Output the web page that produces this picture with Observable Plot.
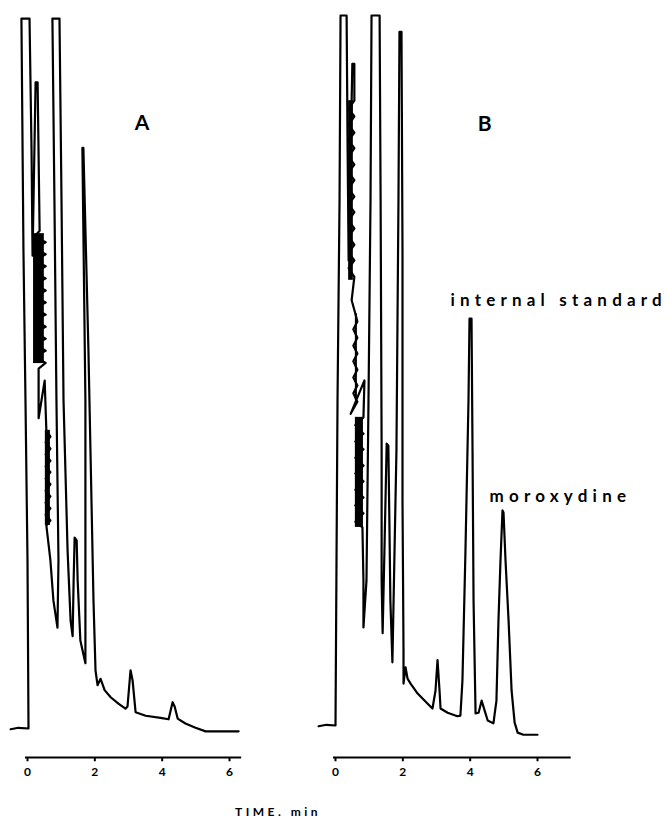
<!DOCTYPE html>
<html><head><meta charset="utf-8">
<script src="https://cdn.jsdelivr.net/npm/d3@7"></script>
<script src="https://cdn.jsdelivr.net/npm/@observablehq/plot@0.6"></script>
<style>
html,body{margin:0;padding:0;background:#fff;}
#chart{position:relative;width:667px;height:825px;overflow:hidden;background:#fff;}
#chart .panel{position:absolute;top:0;}
#xlabel{position:absolute;left:235px;top:804px;font:bold 12px Lato, sans-serif;letter-spacing:3.5px;color:#000;white-space:nowrap;}
</style></head>
<body><div id="chart"><div id="xlabel">TIME. min</div></div>
<script>
// Chromatogram A: [time (min), detector signal (% of full scale)]
const traceA = [
  [-0.50,-0.1],[-0.27,0.1],[0.03,0],[0.00,23.7],[-0.06,46.2],[-0.12,67.3],[-0.18,100],[0.06,100],
  [0.12,81.4],[0.15,66.6],[0.24,91.0],[0.30,91.0],[0.36,70.1],
  [0.21,69.3],[0.54,68.5],[0.21,67.6],[0.54,66.8],[0.21,65.9],[0.54,65.1],[0.21,64.2],[0.54,63.4],
  [0.21,62.5],[0.54,61.7],[0.21,60.8],[0.54,60.0],[0.21,59.2],[0.54,58.3],[0.21,57.5],[0.54,56.6],
  [0.21,55.8],[0.54,54.9],[0.21,54.1],[0.54,53.2],[0.21,52.4],[0.54,51.5],
  [0.33,50.7],[0.33,43.7],[0.51,49.0],[0.56,42.0],
  [0.68,41.1],[0.54,40.3],[0.68,39.4],[0.54,38.6],[0.68,37.7],[0.54,36.9],[0.68,36.1],[0.54,35.2],
  [0.68,34.4],[0.54,33.5],[0.68,32.7],[0.54,31.8],[0.68,31.0],[0.54,30.1],[0.68,29.3],[0.56,28.6],
  [0.68,23.7],[0.77,18.0],[0.89,14.2],
  [0.92,23.7],[0.86,46.2],[0.80,74.4],[0.74,100],[0.95,100],[1.01,74.4],[1.07,46.2],[1.19,25.1],[1.28,15.2],[1.34,13.0],
  [1.37,20.8],[1.40,26.9],[1.46,26.5],[1.49,20.8],[1.57,12.4],[1.72,9.2],
  [1.72,46.2],[1.63,81.8],[1.66,81.8],[1.81,53.2],[1.87,39.2],[1.96,18.0],[2.02,8.2],[2.08,6.1],
  [2.17,7.0],[2.23,6.2],[2.29,5.4],[2.47,4.4],[2.70,3.5],[2.91,2.8],[2.97,3.1],[3.06,8.2],[3.12,6.8],
  [3.21,2.3],[3.51,1.8],[3.95,1.5],[4.19,1.3],[4.25,2.5],[4.31,3.7],[4.37,3.1],[4.46,1.4],[4.69,0.7],
  [4.99,0.1],[5.29,-0.4],[5.73,-0.4],[6.27,-0.4]
];
// Dense pen-chatter bands of chromatogram A: [t1, t2, s1, s2]
const chatterA = [
  [0.18, 0.50, 51.4, 69.7],
  [0.53, 0.68, 28.6, 42.0]
];
// Chromatogram B
const traceB = [
  [-0.50,-0.1],[-0.27,0.1],[0.00,0],[0.03,23.2],[0.06,45.8],[0.12,73.9],[0.15,100],[0.33,100],
  [0.36,81.0],[0.39,65.5],[0.50,93.2],[0.56,93.2],[0.56,88.0],
  [0.39,86.9],[0.56,85.8],[0.39,84.6],[0.56,83.5],[0.39,82.4],[0.56,81.3],[0.39,80.1],[0.56,79.0],
  [0.39,77.9],[0.56,76.8],[0.39,75.6],[0.56,74.5],[0.39,73.4],[0.56,72.3],[0.39,71.1],[0.56,70.0],
  [0.39,68.9],[0.56,67.7],[0.39,66.6],[0.56,65.5],[0.39,64.4],[0.56,63.2],
  [0.48,59.9],[0.59,58.0],
  [0.65,56.9],[0.53,55.8],[0.65,54.6],[0.53,53.5],[0.65,52.4],[0.53,51.3],[0.65,50.1],[0.53,49.0],
  [0.65,47.9],[0.53,46.8],[0.65,45.6],
  [0.45,43.9],[0.86,48.6],[0.83,43.4],
  [0.59,42.3],[0.83,41.1],[0.59,40.0],[0.83,38.9],[0.59,37.7],[0.83,36.6],[0.59,35.5],[0.83,34.4],
  [0.59,33.2],[0.83,32.1],[0.59,31.0],[0.83,29.9],[0.59,28.7],[0.80,27.9],
  [0.83,20.4],[0.83,13.8],
  [0.92,20.4],[0.98,45.8],[1.04,73.9],[1.07,100],[1.31,100],[1.34,73.9],[1.37,38.7],[1.37,20.4],[1.40,13.0],
  [1.46,26.1],[1.52,39.7],[1.57,39.4],[1.60,28.9],[1.63,17.6],[1.69,8.9],
  [1.81,38.7],[1.87,73.9],[1.90,97.7],[1.96,97.7],[1.99,66.9],[1.99,31.7],[2.02,10.6],[2.02,5.9],
  [2.08,8.2],[2.14,6.6],[2.23,5.9],[2.44,4.5],[2.73,3.1],[2.88,2.4],[2.97,4.9],[3.03,9.2],[3.09,4.9],
  [3.12,2.4],[3.33,1.8],[3.62,1.3],[3.71,1.4],[3.77,6.3],[3.86,24.6],[3.95,45.8],[3.98,57.3],[4.04,57.3],
  [4.07,38.7],[4.10,17.6],[4.16,1.7],[4.25,1.8],[4.34,3.5],[4.43,2.1],[4.52,0.7],[4.69,0.3],[4.78,3.5],
  [4.84,14.8],[4.90,23.2],[4.96,30.3],[4.99,30.0],[5.05,23.2],[5.14,14.8],[5.23,4.9],[5.32,0.4],
  [5.41,-1.0],[5.58,-1.3],[6.00,-1.3]
];
// Dense pen-chatter bands of chromatogram B
const chatterB = [
  [0.39, 0.53, 62.7, 88.0],
  [0.59, 0.65, 45.8, 58.0],
  [0.59, 0.83, 27.9, 43.4]
];
const tickValues = [0, 2, 4, 6];
const axisExtentA = [-0.06, 6.36];
const axisExtentB = [-0.06, 7.0];
const panelLabelA = [{t: 3.40, s: 85.2, text: "A"}];
const panelLabelB = [{t: 4.43, s: 84.7, text: "B"}];
const peakLabelsB = [
  {t: 3.415, s: 59.9, text: "internal standard"},
  {t: 4.574, s: 32.2, text: "moroxydine"}
];

const FONT = "Lato, 'DejaVu Sans', sans-serif";

function panel({trace, chatter, left, width, xDomain, yDomain, axisExtent, title, notes}) {
  const rows = trace.map(([t, s]) => ({t, s}));
  const bands = chatter.map(([t1, t2, s1, s2]) => ({t1, t2, s1, s2}));
  const marks = [
    Plot.ruleY([yDomain[0]], {x1: axisExtent[0], x2: axisExtent[1], stroke: "#000", strokeWidth: 2}),
    Plot.ruleX(tickValues, {y1: yDomain[0], y2: yDomain[0] - 0.6, stroke: "#000", strokeWidth: 2}),
    Plot.axisX({ticks: tickValues, tickSize: 0, tickPadding: 10, fontSize: 12, fontWeight: "bold", fontFamily: FONT, tickFormat: d => String(d), color: "#000", label: null}),
    Plot.rect(bands, {x1: "t1", x2: "t2", y1: "s1", y2: "s2", fill: "#000"}),
    Plot.line(rows, {x: "t", y: "s", stroke: "#000", strokeWidth: 2.2, strokeLinejoin: "round", strokeLinecap: "round"}),
    Plot.text(title, {x: "t", y: "s", text: "text", fontSize: 21, fontWeight: "bold", fontFamily: FONT, fill: "#000"})
  ];
  if (notes) marks.push(Plot.text(notes, {x: "t", y: "s", text: "text", textAnchor: "start", fontSize: 17, fontWeight: "bold", fontFamily: FONT, fill: "#000"}));
  const svg = Plot.plot({
    width, height: 825,
    marginLeft: 0, marginRight: 0, marginTop: 0, marginBottom: 68,
    x: {domain: xDomain, axis: null, label: null},
    y: {domain: yDomain, axis: null, label: null},
    style: {background: "transparent", overflow: "visible"},
    marks
  });
  if (notes) {
    const names = new Set(notes.map(d => d.text));
    svg.querySelectorAll("text").forEach(el => {
      if (names.has(el.textContent)) el.setAttribute("letter-spacing", "5.2");
    });
  }
  svg.classList.add("panel");
  svg.style.left = left + "px";
  return svg;
}

const chart = document.getElementById("chart");
chart.appendChild(panel({
  trace: traceA, chatter: chatterA, left: 0, width: 300,
  xDomain: [-0.8019, 8.1081], yDomain: [-4.085, 102.54],
  axisExtent: axisExtentA, title: panelLabelA
}));
chart.appendChild(panel({
  trace: traceB, chatter: chatterB, left: 300, width: 367,
  xDomain: [-1.0395, 9.8604], yDomain: [-4.507, 102.11],
  axisExtent: axisExtentB, title: panelLabelB, notes: peakLabelsB
}));
</script>
</body></html>
